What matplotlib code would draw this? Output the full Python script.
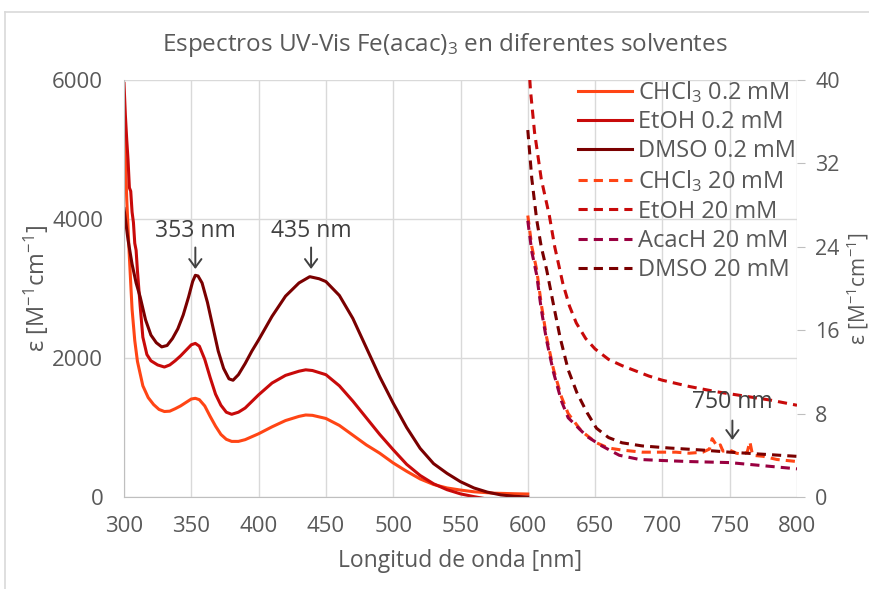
import matplotlib
matplotlib.use("Agg")
import matplotlib.pyplot as plt
from matplotlib.lines import Line2D

plt.rcParams['font.family'] = ['Open Sans', 'DejaVu Sans']
plt.rcParams['mathtext.fontset'] = 'custom'
plt.rcParams['mathtext.rm'] = 'Open Sans'
plt.rcParams['mathtext.it'] = 'Open Sans:italic'
plt.rcParams['mathtext.default'] = 'rm'

TEXT = '#595959'
GRID = '#D9D9D9'

# 0.2 mM spectra (left axis)
wl_chcl3_02 = [300, 301, 302, 304, 306, 308, 310, 314, 318, 322, 326, 330, 334, 338, 342, 346, 350, 353,
               356, 360, 364, 368, 372, 376, 380, 385, 390, 400, 410, 420, 430, 435, 440, 450, 460, 470,
               480, 490, 500, 510, 520, 530, 540, 550, 560, 575, 590, 600]
eps_chcl3_02 = [5600, 4900, 4300, 3450, 2700, 2250, 1950, 1600, 1430, 1330, 1260, 1230, 1235, 1270, 1310, 1360,
                1410, 1420, 1400, 1310, 1160, 1020, 900, 830, 800, 800, 825, 910, 1010, 1100, 1160, 1180,
                1175, 1130, 1030, 890, 750, 630, 490, 370, 260, 180, 130, 100, 75, 55, 47, 43]

wl_etoh_02 = [300, 301, 302, 303, 304, 305, 306, 307, 308, 309, 310, 312, 314, 317, 320, 325, 330, 334, 338,
              342, 346, 350, 353, 356, 360, 364, 368, 372, 376, 380, 385, 390, 400, 410, 420, 430, 435, 440,
              450, 460, 470, 480, 490, 500, 510, 520, 530, 540, 550, 560, 570, 580, 590, 600]
eps_etoh_02 = [5950, 5500, 5150, 4850, 4450, 4400, 4100, 3950, 3650, 3550, 3250, 2750, 2300, 2050, 1960, 1900,
               1870, 1900, 1960, 2030, 2110, 2190, 2210, 2170, 1980, 1720, 1480, 1320, 1220, 1190, 1220, 1280,
               1470, 1640, 1750, 1810, 1830, 1820, 1760, 1600, 1380, 1140, 900, 680, 470, 310, 190, 105, 45,
               5, -30, -60, -80, -100]

wl_dmso_02 = [300, 303, 306, 309, 312, 316, 320, 324, 328, 332, 336, 340, 344, 348, 351, 353, 355, 358, 362,
              366, 370, 374, 378, 381, 385, 390, 395, 400, 410, 420, 430, 438, 445, 450, 460, 470, 480, 490,
              500, 510, 520, 530, 540, 550, 560, 570, 580, 590, 600]
eps_dmso_02 = [4150, 3700, 3350, 3080, 2880, 2550, 2330, 2220, 2160, 2180, 2280, 2420, 2620, 2880, 3100, 3190,
               3180, 3080, 2800, 2450, 2100, 1850, 1700, 1680, 1760, 1920, 2100, 2260, 2600, 2890, 3080, 3170,
               3140, 3100, 2900, 2570, 2150, 1730, 1350, 1000, 700, 480, 340, 220, 130, 70, 30, 10, 0]

# 20 mM spectra (right axis)
wl_chcl3_20 = [600, 603, 606.6, 610, 614, 619, 625, 630, 640, 651, 660, 670, 685, 700, 710, 720, 730, 735,
               737, 739, 741, 743, 745, 750, 755, 760, 763, 765, 767, 775, 785, 800]
eps_chcl3_20 = [27, 24, 21.8, 18.5, 15.3, 12.3, 9.6, 8.0, 6.3, 5.2, 4.7, 4.5, 4.3, 4.3, 4.3, 4.2, 4.3, 4.6,
                5.6, 5.2, 4.8, 5.0, 4.4, 4.5, 4.2, 4.1, 4.3, 5.3, 4.0, 3.9, 3.6, 3.4]

wl_etoh_20 = [600, 602, 605, 610, 616, 620, 626, 631, 636, 643, 650, 660, 670, 680, 690, 700, 720, 740, 760,
              780, 800]
eps_etoh_20 = [43, 39, 35, 30.5, 27, 24, 20.5, 18.3, 16.7, 15.2, 14.2, 13.2, 12.6, 12.1, 11.6, 11.2, 10.6,
               10.1, 9.7, 9.3, 8.8]

wl_acach_20 = [600, 603, 606.6, 610, 614, 619, 625, 630, 644, 655, 668, 683, 700, 720, 750, 775, 800]
eps_acach_20 = [26.5, 23.5, 21.3, 18, 15, 12, 9.2, 7.6, 5.8, 4.9, 4.0, 3.6, 3.5, 3.4, 3.3, 3.0, 2.7]

wl_dmso_20 = [600, 603, 606.6, 610, 614, 619, 624, 630, 636.5, 644, 651, 660, 670, 685, 705, 730, 750, 775,
              800]
eps_dmso_20 = [35.2, 30.5, 26.6, 24, 21.8, 18.5, 15.3, 12.2, 10, 8.1, 6.6, 5.7, 5.2, 4.9, 4.7, 4.5, 4.3, 4.1,
               3.9]

peaks = [(353, '353 nm'), (439, '435 nm')]

C_CHCL3 = '#FF4515'
C_ETOH = '#C80A0A'
C_DMSO = '#7A0000'
C_ACACH = '#990040'

fig = plt.figure(figsize=(8.70, 5.89), dpi=100)
ax = fig.add_axes([124 / 870, 1 - 497 / 589, (797 - 124) / 870, (497 - 80) / 589])
ax2 = ax.twinx()

lw = 2.2
dash = (3, 2)
l1, = ax.plot(wl_chcl3_02, eps_chcl3_02, color=C_CHCL3, lw=lw, label=r'CHCl$_3$ 0.2 mM')
l2, = ax.plot(wl_etoh_02, eps_etoh_02, color=C_ETOH, lw=lw, label='EtOH 0.2 mM')
l3, = ax.plot(wl_dmso_02, eps_dmso_02, color=C_DMSO, lw=lw, label='DMSO 0.2 mM')

l4, = ax2.plot(wl_chcl3_20, eps_chcl3_20, color=C_CHCL3, lw=lw, dashes=dash, label=r'CHCl$_3$ 20 mM')
l5, = ax2.plot(wl_etoh_20, eps_etoh_20, color=C_ETOH, lw=lw, dashes=dash, label='EtOH 20 mM')
l6, = ax2.plot(wl_acach_20, eps_acach_20, color=C_ACACH, lw=lw, dashes=dash, label='AcacH 20 mM')
l7, = ax2.plot(wl_dmso_20, eps_dmso_20, color=C_DMSO, lw=lw, dashes=dash, label='DMSO 20 mM')

ax.set_xlim(300, 800)
ax.set_ylim(0, 6000)
ax2.set_ylim(0, 40)
ax.set_xticks(range(300, 801, 50))
ax.set_yticks([0, 2000, 4000, 6000])
ax2.set_yticks([0, 8, 16, 24, 32, 40])

ax.grid(True, color=GRID, lw=1)
ax.set_axisbelow(True)
for s in ['top', 'right']:
    ax.spines[s].set_visible(False)
for s in ['left', 'bottom']:
    ax.spines[s].set_color('#BFBFBF')
for s in ['top', 'left', 'bottom', 'right']:
    ax2.spines[s].set_visible(False)

ax.tick_params(axis='both', length=0, colors=TEXT, labelsize=16)
ax.tick_params(axis='y', pad=15)
ax.tick_params(axis='x', pad=14)
ax2.tick_params(axis='y', direction='out', length=6, color='#BFBFBF', labelcolor=TEXT, labelsize=15.5, pad=7)

ax.set_xlabel('Longitud de onda [nm]', color=TEXT, fontsize=16.5, labelpad=8)
ax.set_ylabel(r'ε [M$^{-1}$cm$^{-1}$]', color=TEXT, fontsize=17, labelpad=1)
ax2.set_ylabel(r'ε [M$^{-1}$cm$^{-1}$]', color=TEXT, fontsize=15)
ax2.yaxis.set_label_coords((858 - 124) / 673, 0.5)
ax2.yaxis.label.set_va('center')
fig.text(0.511, 1 - 45 / 589, r'Espectros UV-Vis Fe(acac)$_3$ en diferentes solventes',
         ha='center', va='center', color=TEXT, fontsize=17.5)

arrow = dict(arrowstyle='->,head_length=0.3,head_width=0.22', color='#404040', lw=1.4, mutation_scale=20)
for x, txt in peaks:
    ax.annotate('', xy=(x, 3240), xytext=(x, 3630), arrowprops=arrow)
    ax.text(x, 3830, txt, ha='center', va='center', color='#404040', fontsize=16.5)
ax2.annotate('', xy=(752, 5.2), xytext=(752, 7.6), arrowprops=arrow)
ax2.text(752, 9.1, '750 nm', ha='center', va='center', color='#404040', fontsize=16.5)

ax2.legend(handles=[l1, l2, l3, l4, l5, l6, l7], loc='upper left',
           bbox_to_anchor=(578 / 870, 1 - 79 / 589), bbox_transform=fig.transFigure,
           frameon=False, fontsize=17, labelcolor=TEXT, handlelength=2.3, handletextpad=0.22,
           labelspacing=0.22, borderpad=0, borderaxespad=0)

# outer frame lines
fig.add_artist(Line2D([5 / 870, 5 / 870], [0, 1 - 12 / 589], color='#D9D9D9', lw=1.2))
fig.add_artist(Line2D([5 / 870, 1], [1 - 12 / 589, 1 - 12 / 589], color='#D9D9D9', lw=1.2))

fig.savefig('out.png', dpi=100)
